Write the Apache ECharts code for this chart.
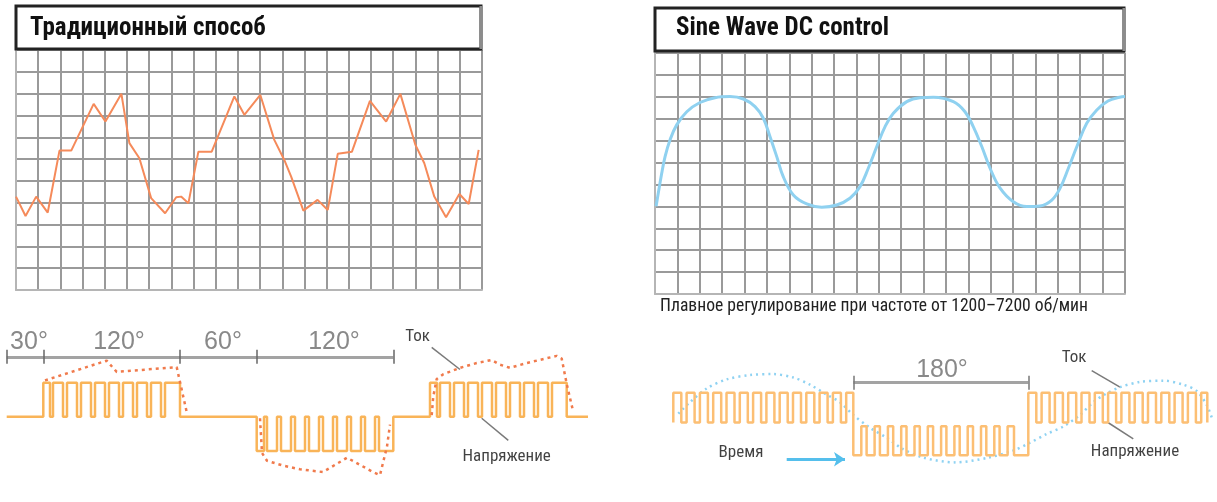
<!DOCTYPE html>
<html>
<head>
<meta charset="utf-8">
<script src="https://cdn.jsdelivr.net/npm/echarts@6/dist/echarts.min.js"></script>
<style>
html,body{margin:0;padding:0;background:#fff;}
#chart{width:1217px;height:502px;}
</style>
</head>
<body>
<div id="chart"></div>
<script>
// ---------- DATA ----------
const titleLeft = 'Традиционный способ';
const titleRight = 'Sine Wave DC control';
const captionRight = 'Плавное регулирование при частоте от 1200–7200 об/мин';

// top panels: grid of 21 x 11 cells
const gridCols = 21;
const gridRows = 11;

// top-left: traditional current waveform [cell x, cell y]
const tradCurve = [
  [0.0,4.28],[0.43,3.39],[0.91,4.28],[1.43,3.55],[1.96,6.39],[2.49,6.39],[3.50,8.53],[4.03,7.72],
  [4.75,8.99],[5.11,6.73],[5.56,6.04],[6.09,4.21],[6.72,3.52],[7.22,4.25],[7.44,4.28],[7.77,3.98],
  [8.22,6.34],[8.82,6.34],[9.84,8.87],[10.29,8.03],[11.01,8.94],[11.64,6.88],[12.09,5.96],[12.40,5.20],
  [12.95,3.64],[13.59,4.13],[14.05,3.67],[14.50,6.24],[15.14,6.34],[15.95,8.67],[16.68,7.72],[17.32,8.99],
  [18.0,6.65],[18.40,5.81],[18.85,4.28],[19.38,3.33],[19.98,4.40],[20.40,3.94],[20.85,6.42]
];

// top-right: sine wave DC current [cell x, cell y]
const sineCurve = [
  [0.05,4.0],[0.30,5.51],[0.45,6.27],[0.67,7.03],[0.97,7.72],[1.42,8.32],[2.01,8.74],[2.68,8.96],
  [3.35,9.01],[3.95,8.90],[4.47,8.55],[4.84,8.02],[5.14,7.18],[5.44,6.27],[5.73,5.36],[6.18,4.52],
  [6.78,4.11],[7.45,3.96],[8.12,4.06],[8.71,4.37],[9.16,4.90],[9.53,5.74],[9.91,6.73],[10.28,7.64],
  [10.65,8.25],[11.25,8.78],[11.84,8.96],[12.44,8.98],[13.33,8.78],[13.85,8.32],[14.22,7.64],
  [14.60,6.73],[14.97,5.74],[15.42,4.83],[16.01,4.21],[16.61,3.99],[17.20,4.02],[17.73,4.29],[18.10,4.83],
  [18.47,5.74],[18.85,6.73],[19.29,7.79],[19.74,8.40],[20.24,8.81],[20.76,8.98],[21.0,9.01]
];

// bottom-left: traditional PWM voltage, [time, new level] at each edge
const tradVoltage = [
  [6.7,0],[43.3,1],[50,0],[53,1],[63,0],[67,1],[77,0],[81,1],[91,0],[95,1],[105,0],[109,1],[119,0],
  [123,1],[133,0],[137,1],[147,0],[151,1],[161,0],[165,1],[180,0],
  [256.7,-1],[264,0],[267,-1],[277,0],[281,-1],[291,0],[295,-1],[305,0],[309,-1],[319,0],[323,-1],
  [333,0],[337,-1],[347,0],[351,-1],[361,0],[365,-1],[375,0],[379,-1],[393.3,0],
  [430,1],[437,0],[440,1],[450,0],[454,1],[464,0],[468,1],[478,0],[482,1],[492,0],[496,1],[506,0],
  [510,1],[520,0],[524,1],[534,0],[538,1],[548,0],[552,1],[566.7,0],[588,0]
];
// bottom-left: traditional current (dotted), three pieces
const tradCurrent1 = [[45,1.07],[106.7,1.65],[116.7,1.32],[176.7,1.46],[186.7,0.14]];
const tradCurrent2 = [[260,-0.04],[262,-1.06],[267,-1.29],[283,-1.43],[300,-1.54],[323,-1.62],[347,-1.20],[373,-1.62],[380,-1.71],[387,-0.87],[390,-0.23]];
const tradCurrent3 = [[431.7,0.05],[433.3,0.60],[436.7,1.11],[443.3,1.25],[460,1.44],[476.7,1.58],[491.7,1.67],[500,1.53],[510,1.44],[526.7,1.58],[556.7,1.79],[561.7,1.71],[566.7,0.97],[573.3,0.14]];
// degree ruler (bottom-left)
const tradRulerTicks = [6.7, 43.3, 180, 256.7, 393.3];
const tradRulerLevel = 1.76;
const tradDegreeLabels = ['30°', '120°', '60°', '120°'];
const tradDegreeX = [29, 119, 223, 334];
const tradDegreeLevel = 2.18;

// bottom-right: sine wave DC voltage, [time, new level] at each edge
const sineVoltage = [
  [673.3,0.05],[673.3,1],[681.3,0.05],[686.6,1],[694.6,0.05],[699.9,1],[707.9,0.05],[713.2,1],[721.2,0.05],
  [726.5,1],[734.5,0.05],[739.8,1],[747.8,0.05],[753.1,1],[761.1,0.05],[766.4,1],[774.4,0.05],
  [779.7,1],[787.7,0.05],[793,1],[801,0.05],[806.3,1],[814.3,0.05],[819.6,1],[827.6,0.05],
  [832.9,1],[840.9,0.05],[846.2,1],
  [853.3,-1],[861.3,-0.07],[866.6,-1],[874.6,-0.07],[879.9,-1],[887.9,-0.07],[893.2,-1],[901.2,-0.07],
  [906.5,-1],[914.5,-0.07],[919.8,-1],[927.8,-0.07],[933.1,-1],[941.1,-0.07],[946.4,-1],[954.4,-0.07],
  [959.7,-1],[967.7,-0.07],[973,-1],[981,-0.07],[986.3,-1],[994.3,-0.07],[999.6,-1],[1007.6,-0.07],
  [1014,-1],
  [1028.3,1],[1036.3,0.05],[1041.6,1],[1049.6,0.05],[1054.9,1],[1062.9,0.05],[1068.2,1],[1076.2,0.05],
  [1081.5,1],[1089.5,0.05],[1094.8,1],[1102.8,0.05],[1108.1,1],[1116.1,0.05],[1121.4,1],[1129.4,0.05],
  [1134.7,1],[1142.7,0.05],[1148,1],[1156,0.05],[1161.3,1],[1169.3,0.05],[1174.6,1],[1182.6,0.05],
  [1187.9,1],[1195.9,0.05],[1201.2,1],[1207.3,0.05]
];
// bottom-right: sine current (dotted)
const sineCurrent = [
  [678.3,0.33],[690,0.70],[706.7,1.14],[726.7,1.43],[750,1.57],[773.3,1.60],[793.3,1.49],[810,1.26],
  [826.7,0.94],[840,0.70],[853.3,0.29],[870,-0.12],[886.7,-0.44],[903.3,-0.81],[923.3,-1.08],[955,-1.23],
  [986.7,-1.09],[1013.3,-0.85],[1030,-0.60],[1046.7,-0.32],[1063.3,-0.08],[1080,0.29],[1093.3,0.70],
  [1106.7,0.98],[1120,1.18],[1140,1.35],[1163.3,1.39],[1183.3,1.26],[1196.7,1.06],[1206.7,0.61],[1211.7,0.21]
];
const sineRulerTicks = [853.3, 1028.3];
const sineRulerLevel = 1.35;
const sineDegreeLabel = '180°';
const sineDegreeX = 942;
const sineDegreeLevel = 1.72;

// annotation labels
const labelsLeft = [
  {name: 'Ток', value: [417.5, 2.36]},
  {name: 'Напряжение', value: [506.7, -1.16]}
];
const leadersLeft = [
  [[431.7, 2.04], [460, 1.39]],
  [[481.7, -0.04], [508.3, -0.69]]
];
const labelsRight = [
  {name: 'Ток', value: [1074, 2.12]},
  {name: 'Напряжение', value: [1135, -0.89]},
  {name: 'Время', value: [741, -0.93]}
];
const leadersRight = [
  [[1091.7, 1.71], [1120, 1.18]],
  [[1108.3, 0.04], [1133.3, -0.48]]
];
const timeArrow = [[786.7, -1.13], [845, -1.13]];

// ---------- CHART ----------
const narrow = '"Roboto Condensed","Liberation Sans Narrow","DejaVu Sans Condensed","Arial Narrow","Liberation Sans",sans-serif';
const plain = '"Liberation Sans",Arial,sans-serif';
const gridLine = {show: true, lineStyle: {color: '#9a9a9a', width: 2}};

function cellAxis(idx, max) {
  return {
    type: 'value', gridIndex: idx, min: 0, max: max, interval: 1,
    axisLabel: {show: false}, axisTick: {show: false},
    axisLine: {show: true, lineStyle: {color: '#b5b5b5', width: 2}},
    splitLine: gridLine
  };
}

const chart = echarts.init(document.getElementById('chart'), null, {renderer: 'canvas'});

const leftRulerSegs = [{coords: [[tradRulerTicks[0], tradRulerLevel], [tradRulerTicks[tradRulerTicks.length - 1], tradRulerLevel]]}];
const leftTickSegs = tradRulerTicks.map(x => ({coords: [[x, tradRulerLevel - 0.2], [x, tradRulerLevel + 0.21]]}));
const rightRulerSegs = [{coords: [[sineRulerTicks[0], sineRulerLevel], [sineRulerTicks[1], sineRulerLevel]]}];
const rightTickSegs = sineRulerTicks.map(x => ({coords: [[x, sineRulerLevel - 0.25], [x, sineRulerLevel + 0.2]]}));

const labelStyle = {show: true, position: 'inside', formatter: p => p.name, color: '#111', fontSize: 17, fontFamily: narrow};
const degreeStyle = {show: true, position: 'inside', formatter: p => p.name, color: '#6b6b6b', fontSize: 25, fontFamily: plain};

const option = {
  animation: false,
  backgroundColor: '#ffffff',
  grid: [
    {left: 16, top: 50, width: 466, height: 240},
    {left: 655, top: 53, width: 470, height: 241},
    {left: 0, top: 331.7, width: 600, height: 180},
    {left: 640, top: 346, width: 577, height: 205}
  ],
  xAxis: [
    cellAxis(0, gridCols),
    cellAxis(1, gridCols),
    {type: 'value', gridIndex: 2, min: 0, max: 600, show: false},
    {type: 'value', gridIndex: 3, min: 640, max: 1217, show: false}
  ],
  yAxis: [
    cellAxis(0, gridRows),
    cellAxis(1, gridRows),
    {type: 'value', gridIndex: 2, min: -2.5, max: 2.5, show: false},
    {type: 'value', gridIndex: 3, min: -2.5, max: 2.5, show: false}
  ],
  graphic: [
    {type: 'rect', shape: {x: 16, y: 6, width: 465, height: 43}, style: {fill: '#fff', stroke: '#222', lineWidth: 3}, z: 10},
    {type: 'line', shape: {x1: 481, y1: 6, x2: 481, y2: 49}, style: {stroke: '#8c8c8c', lineWidth: 3}, z: 11},
    {type: 'text', style: {text: titleLeft, x: 30, y: 29, verticalAlign: 'middle', font: 'bold 25px ' + narrow, fill: '#111'}, z: 12},
    {type: 'rect', shape: {x: 655, y: 8, width: 469, height: 43}, style: {fill: '#fff', stroke: '#222', lineWidth: 3}, z: 10},
    {type: 'line', shape: {x1: 1124, y1: 8, x2: 1124, y2: 51}, style: {stroke: '#8c8c8c', lineWidth: 3}, z: 11},
    {type: 'text', style: {text: titleRight, x: 676, y: 29, verticalAlign: 'middle', font: 'bold 25px ' + narrow, fill: '#111'}, z: 12},
    {type: 'text', style: {text: captionRight, x: 660, y: 307, verticalAlign: 'middle', font: '17.6px ' + narrow, fill: '#222'}, z: 12}
  ],
  series: [
    {type: 'line', xAxisIndex: 0, yAxisIndex: 0, data: tradCurve, symbol: 'none',
      lineStyle: {color: '#f58a5a', width: 2}, z: 5},
    {type: 'line', xAxisIndex: 1, yAxisIndex: 1, data: sineCurve, symbol: 'none', smooth: 0.4,
      lineStyle: {color: '#8fd1f0', width: 3}, z: 5},

    // bottom-left
    {type: 'lines', coordinateSystem: 'cartesian2d', xAxisIndex: 2, yAxisIndex: 2, data: leftRulerSegs,
      lineStyle: {color: '#a3a3a3', width: 3, opacity: 1}},
    {type: 'lines', coordinateSystem: 'cartesian2d', xAxisIndex: 2, yAxisIndex: 2, data: leftTickSegs,
      lineStyle: {color: '#666', width: 1.5, opacity: 1}},
    {type: 'line', xAxisIndex: 2, yAxisIndex: 2, data: tradVoltage, step: 'end', symbol: 'none',
      lineStyle: {color: '#f9b458', width: 2.5}},
    {type: 'line', xAxisIndex: 2, yAxisIndex: 2, data: tradCurrent1, symbol: 'none',
      lineStyle: {color: '#f07a4c', width: 2.5, type: [3, 4]}},
    {type: 'line', xAxisIndex: 2, yAxisIndex: 2, data: tradCurrent2, symbol: 'none',
      lineStyle: {color: '#f07a4c', width: 2.5, type: [3, 4]}},
    {type: 'line', xAxisIndex: 2, yAxisIndex: 2, data: tradCurrent3, symbol: 'none',
      lineStyle: {color: '#f07a4c', width: 2.5, type: [3, 4]}},
    {type: 'lines', coordinateSystem: 'cartesian2d', xAxisIndex: 2, yAxisIndex: 2,
      data: leadersLeft.map(c => ({coords: c})), lineStyle: {color: '#7a7a7a', width: 1.5, opacity: 1}},
    {type: 'scatter', xAxisIndex: 2, yAxisIndex: 2, symbolSize: 1, itemStyle: {color: 'rgba(0,0,0,0)'},
      data: tradDegreeLabels.map((t, i) => ({name: t, value: [tradDegreeX[i], tradDegreeLevel]})),
      label: degreeStyle},
    {type: 'scatter', xAxisIndex: 2, yAxisIndex: 2, symbolSize: 1, itemStyle: {color: 'rgba(0,0,0,0)'},
      data: labelsLeft, label: labelStyle},

    // bottom-right
    {type: 'lines', coordinateSystem: 'cartesian2d', xAxisIndex: 3, yAxisIndex: 3, data: rightRulerSegs,
      lineStyle: {color: '#a3a3a3', width: 3, opacity: 1}},
    {type: 'lines', coordinateSystem: 'cartesian2d', xAxisIndex: 3, yAxisIndex: 3, data: rightTickSegs,
      lineStyle: {color: '#777', width: 1.5, opacity: 1}},
    {type: 'line', xAxisIndex: 3, yAxisIndex: 3, data: sineCurrent, symbol: 'none', smooth: 0.3,
      lineStyle: {color: '#8fd2f2', width: 2.5, type: [2, 4]}},
    {type: 'line', xAxisIndex: 3, yAxisIndex: 3, data: sineVoltage, step: 'end', symbol: 'none',
      lineStyle: {color: '#fcbf74', width: 2.5}},
    {type: 'lines', coordinateSystem: 'cartesian2d', xAxisIndex: 3, yAxisIndex: 3,
      data: leadersRight.map(c => ({coords: c})), lineStyle: {color: '#7a7a7a', width: 1.5, opacity: 1}},
    {type: 'lines', coordinateSystem: 'cartesian2d', xAxisIndex: 3, yAxisIndex: 3,
      data: [{coords: timeArrow}], symbol: ['none', 'arrow'], symbolSize: 11,
      lineStyle: {color: '#55bfec', width: 3, opacity: 1}},
    {type: 'scatter', xAxisIndex: 3, yAxisIndex: 3, symbolSize: 1, itemStyle: {color: 'rgba(0,0,0,0)'},
      data: [{name: sineDegreeLabel, value: [sineDegreeX, sineDegreeLevel]}], label: degreeStyle},
    {type: 'scatter', xAxisIndex: 3, yAxisIndex: 3, symbolSize: 1, itemStyle: {color: 'rgba(0,0,0,0)'},
      data: labelsRight, label: labelStyle}
  ]
};
chart.setOption(option);
</script>
</body>
</html>
